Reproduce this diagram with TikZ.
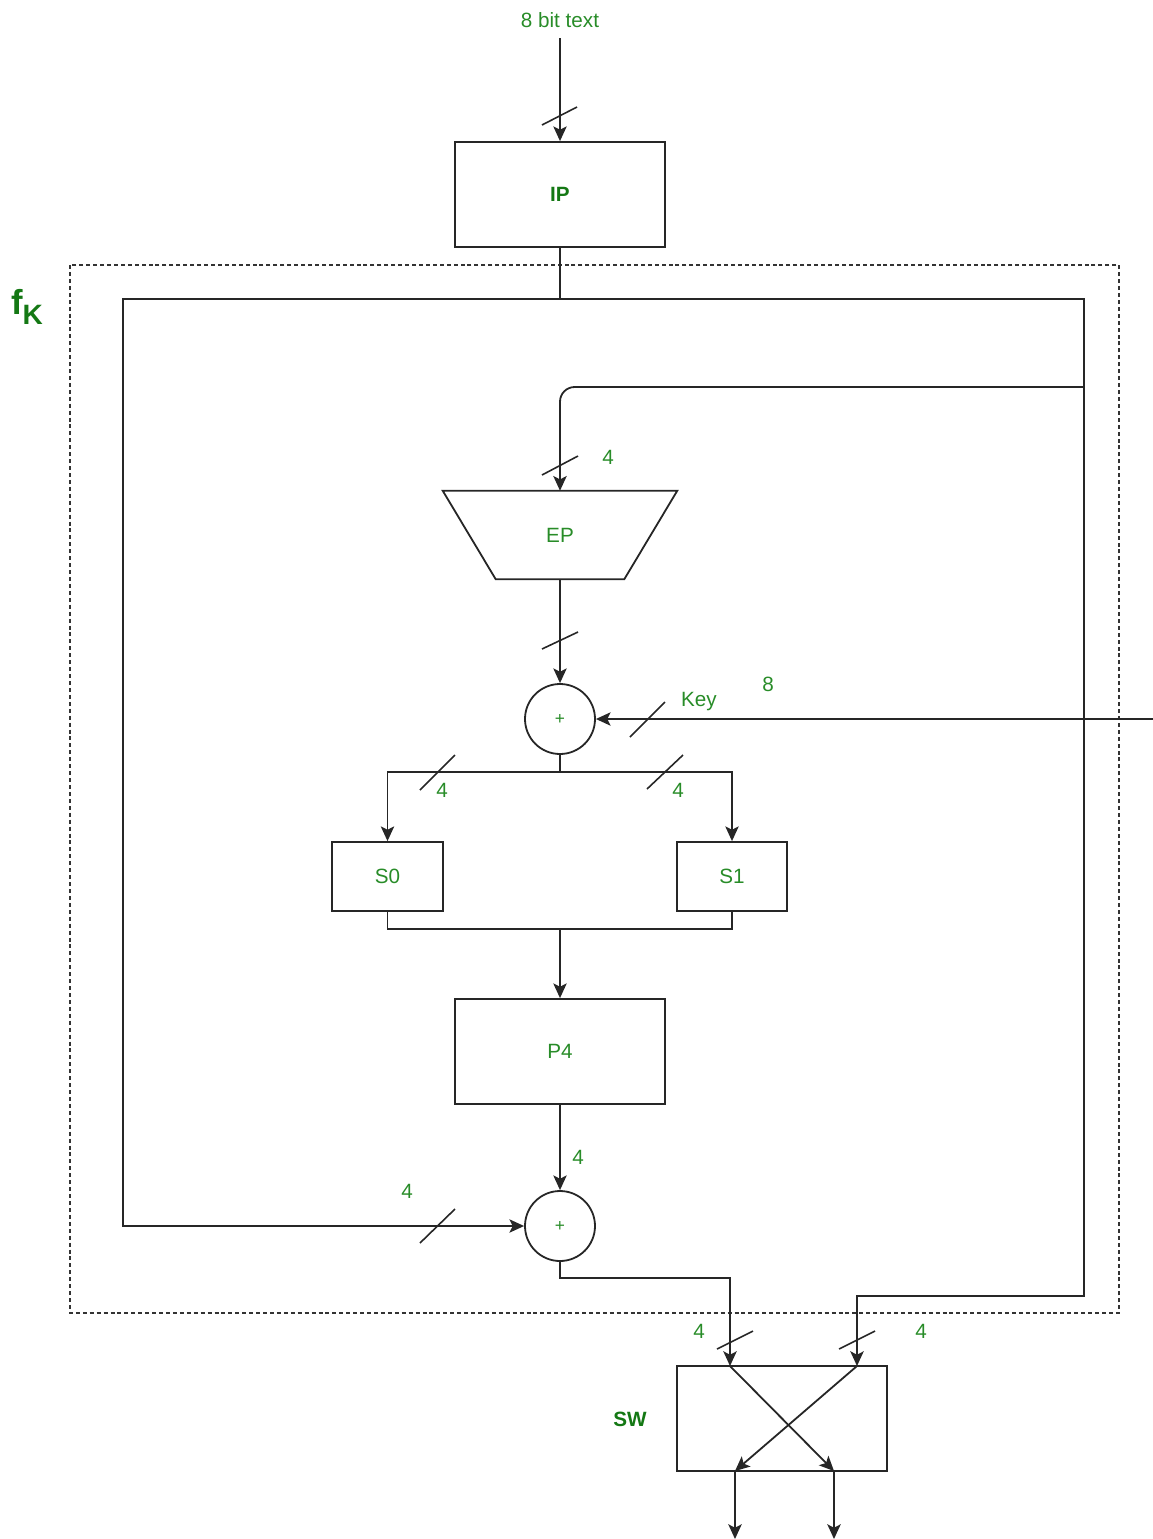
\documentclass[tikz,border=0pt]{standalone}
\usepackage{fontspec}
\setmainfont{Liberation Sans}
\usetikzlibrary{arrows.meta}
\definecolor{lbl}{RGB}{40,140,40}
\definecolor{lbldark}{RGB}{20,120,20}
\tikzset{
  wire/.style={line width=1.35pt, draw=black!85},
  arr/.style={wire, -{Stealth[length=11pt,width=10pt,inset=2.5pt]}},
  slash/.style={line width=1.2pt, draw=black!85},
  txt/.style={text=lbl, font=\fontsize{15.5}{18}\selectfont, inner sep=0pt},
  btxt/.style={text=lbldark, font=\fontsize{15.5}{18}\selectfont\bfseries, inner sep=0pt},
  bigbox/.style={wire, rectangle, minimum width=157.5pt, minimum height=78.75pt, inner sep=0pt},
  sbox/.style={wire, rectangle, minimum width=83pt, minimum height=51.75pt, inner sep=0pt,
    text=lbl, font=\fontsize{15.5}{18}\selectfont},
  xorc/.style={wire, circle, minimum size=52.5pt, inner sep=0pt,
    text=lbl, font=\fontsize{13}{14}\selectfont},
  frame/.style={line width=0.9pt, draw=black!80, dash pattern=on 3pt off 2.2pt}
}
\begin{document}
\begin{tikzpicture}[x=0.75pt, y=-0.75pt]
\useasboundingbox (0,0) rectangle (1153,1539);

% round function boundary
\draw[frame] (70,265) rectangle (1119,1313);
\node[inner sep=0pt, text=lbldark] (fk) at (27,307)
  {\fontsize{26}{28}\selectfont\bfseries f\raisebox{-7pt}{\fontsize{21}{24}\selectfont K}};

% blocks
\node[txt] (intext) at (560,20) {8 bit text};
\node[bigbox, text=lbldark, font=\fontsize{15.5}{18}\selectfont\bfseries] (ip) at (560,194.5) {IP};
\node[inner sep=0pt, minimum width=175.5pt, minimum height=66pt, text=lbl,
      font=\fontsize{15.5}{18}\selectfont] (ep) at (560,535) {EP};
\draw[wire] (ep.north west) -- (ep.north east)
  -- ([xshift=-39.75pt]ep.south east) -- ([xshift=39.75pt]ep.south west) -- cycle;
\node[xorc] (xa) at (560,719) {+};
\node[sbox] (s0) at (387.5,876.5) {S0};
\node[sbox] (s1) at (732,876.5) {S1};
\node[bigbox, text=lbl, font=\fontsize{15.5}{18}\selectfont] (p4) at (560,1051.5) {P4};
\node[xorc] (xb) at (560,1226) {+};
\node[bigbox] (sw) at (782,1418.5) {};
\node[btxt] (swl) at (630,1419) {SW};

% junctions
\coordinate (src) at (560,38);
\coordinate (top) at (560,299);
\coordinate (tl) at (123,299);
\coordinate (tr) at (1084,299);
\coordinate (br) at (1084,387);
\coordinate (key) at (1153,719);
\coordinate (split) at (560,772);
\coordinate (merge) at (560,929);
\coordinate (xbo) at (560,1278);
\coordinate (swa) at (730,1366);
\coordinate (swb) at (857,1366);
\coordinate (swc) at (735,1471);
\coordinate (swd) at (834,1471);
\coordinate (outa) at (735,1539);
\coordinate (outb) at (834,1539);

% connectors
\draw[arr] (src) -- (ip.north);
\draw[wire] (ip.south) -- (top);
\draw[arr] (top) -- (tl) |- (xb.west);
\draw[arr] (top) -- (tr) -- (1084,1296) -| (swb);
\draw[arr, rounded corners=11pt] (br) -- (560,387) -- (ep.north);
\draw[arr] (ep.south) -- (xa.north);
\draw[arr] (key) -- (xa.east);
\draw[wire] (xa.south) -- (split);
\draw[arr] (split) -| (s0.north);
\draw[arr] (split) -| (s1.north);
\draw[wire] (s0.south) |- (merge) -| (s1.south);
\draw[arr] (merge) -- (p4.north);
\draw[arr] (p4.south) -- (xb.north);
\draw[arr] (xb.south) -- (xbo) -| (swa);
\draw[arr] (swa) -- (swd);
\draw[arr] (swb) -- (swc);
\draw[arr] (swc) -- (outa);
\draw[arr] (swd) -- (outb);

% bus width marks
\draw[slash] (542,125) -- (577,107);
\draw[slash] (542,475) -- (578,456);
\draw[slash] (542,649) -- (578,632);
\draw[slash] (630,737) -- (665,702);
\draw[slash] (420,790) -- (455,755);
\draw[slash] (647,789) -- (683,755);
\draw[slash] (420,1243) -- (455,1209);
\draw[slash] (717,1349) -- (753,1331);
\draw[slash] (839,1349) -- (875,1331);

% labels
\node[txt] (n1) at (608,457) {4};
\node[txt] (n2) at (699,702) {Key};
\node[txt] (n3) at (768,684) {8};
\node[txt] (n4) at (442,790) {4};
\node[txt] (n5) at (678,790) {4};
\node[txt] (n6) at (578,1157) {4};
\node[txt] (n7) at (407,1191) {4};
\node[txt] (n8) at (699,1331) {4};
\node[txt] (n9) at (921,1331) {4};
\end{tikzpicture}
\end{document}
